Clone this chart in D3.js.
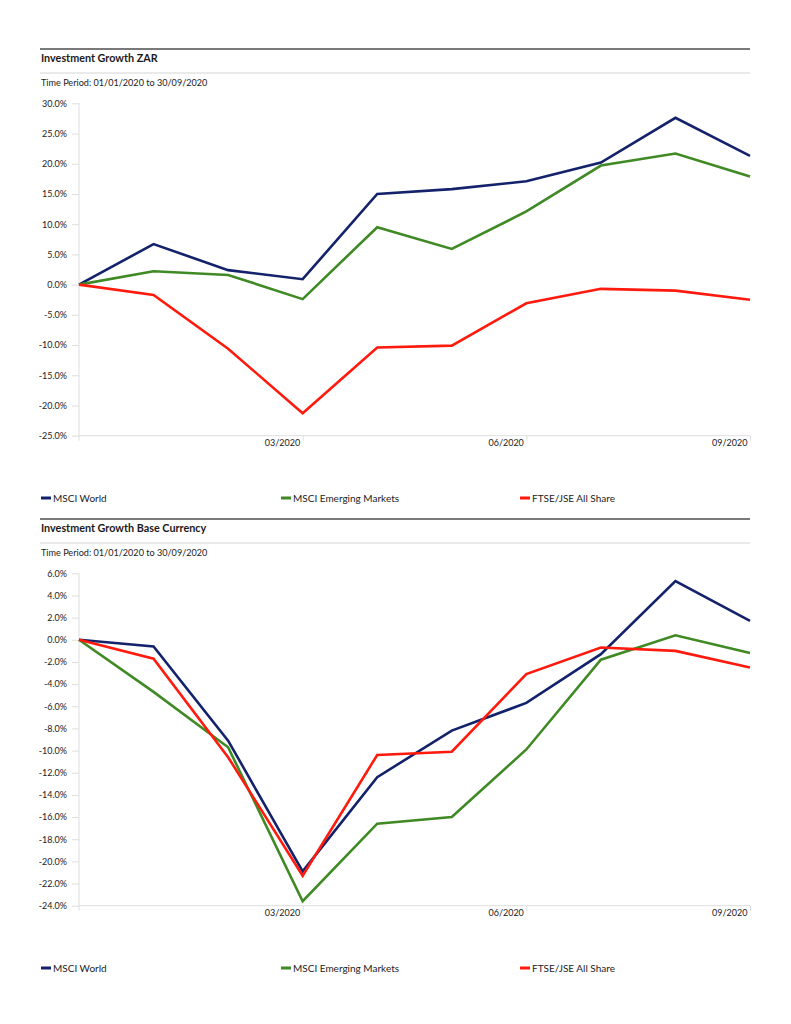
<!DOCTYPE html>
<html>
<head>
<meta charset="utf-8">
<script src="https://cdn.jsdelivr.net/npm/d3@7"></script>
<style>
  body { margin: 0; background: #fff; }
  svg { display: block; font-family: Lato, "Open Sans", sans-serif; }
</style>
</head>
<body>
<div id="chart"></div>
<script>
// month-end dates of the series
var dates = ["01/01/2020", "31/01/2020", "29/02/2020", "31/03/2020", "30/04/2020",
             "31/05/2020", "30/06/2020", "31/07/2020", "31/08/2020", "30/09/2020"];
var xTickIndex = [3, 6, 9];
var xTickLabels = ["03/2020", "06/2020", "09/2020"];

var seriesNames = ["MSCI World", "MSCI Emerging Markets", "FTSE/JSE All Share"];
var seriesColors = ["#13226b", "#3f8a24", "#ff1a0d"];

// Investment Growth ZAR (%)
var zarWorld = [0, 6.7, 2.4, 0.9, 15.0, 15.8, 17.1, 20.2, 27.6, 21.3];
var zarEM    = [0, 2.2, 1.6, -2.4, 9.5, 5.9, 12.1, 19.7, 21.7, 17.9];
var zarFtse  = [0, -1.7, -10.6, -21.3, -10.4, -10.1, -3.1, -0.7, -1.0, -2.5];

// Investment Growth Base Currency (%)
var baseWorld = [0, -0.6, -9.1, -20.9, -12.4, -8.2, -5.7, -1.3, 5.3, 1.7];
var baseEM    = [0, -4.7, -9.7, -23.6, -16.6, -16.0, -9.9, -1.8, 0.4, -1.2];
var baseFtse  = [0, -1.7, -10.6, -21.3, -10.4, -10.1, -3.1, -0.7, -1.0, -2.5];

var zarTicks = [-25, -20, -15, -10, -5, 0, 5, 10, 15, 20, 25, 30];
var baseTicks = [-24, -22, -20, -18, -16, -14, -12, -10, -8, -6, -4, -2, 0, 2, 4, 6];

var svg = d3.select("#chart").append("svg")
    .attr("width", 791)
    .attr("height", 1024);

function drawPanel(top, title, series, yTicks) {
    var g = svg.append("g").attr("transform", `translate(0, ${top})`);

    // header rules and titles
    g.append("line").attr("x1", 40).attr("x2", 750).attr("y1", 0).attr("y2", 0)
        .attr("stroke", "#4d4d4d").attr("stroke-width", 1.5);
    g.append("text").attr("x", 41).attr("y", 13)
        .attr("font-size", "10.8px").attr("font-weight", "bold").attr("fill", "#1a1a1a")
        .text(title);
    g.append("line").attr("x1", 40).attr("x2", 750).attr("y1", 24).attr("y2", 24)
        .attr("stroke", "#e3e3e3").attr("stroke-width", 1.5);
    g.append("text").attr("x", 41).attr("y", 37)
        .attr("font-size", "9.1px").attr("fill", "#222")
        .text("Time Period: " + dates[0] + " to " + dates[dates.length - 1]);

    var x = d3.scaleLinear().domain([0, dates.length - 1]).range([79, 750]);
    var y = d3.scaleLinear().domain([d3.min(yTicks), d3.max(yTicks)]).range([386.7, 54.3]);

    var yAxis = d3.axisLeft(y).tickValues(yTicks).tickSize(7).tickPadding(5)
        .tickFormat(d => d.toFixed(1) + "%");
    var yg = g.append("g").attr("transform", "translate(79, 0)").call(yAxis);
    yg.select(".domain").remove();
    yg.append("line").attr("x1", 0).attr("x2", 0).attr("y1", y.range()[1]).attr("y2", y.range()[0] + 5)
        .attr("stroke", "#dedede").attr("stroke-width", 1);
    yg.selectAll(".tick line").attr("stroke", "#dedede");
    yg.selectAll(".tick text").attr("font-size", "9px").attr("fill", "#222")
        .attr("font-family", "Lato, 'Open Sans', sans-serif");

    var xAxis = d3.axisBottom(x).tickValues(xTickIndex).tickSize(5).tickPadding(4)
        .tickFormat((d, i) => xTickLabels[i]);
    var xg = g.append("g").attr("transform", `translate(0, ${y.range()[0]})`).call(xAxis);
    xg.select(".domain").attr("stroke", "#dedede").attr("d", "M79,0H750");
    xg.selectAll(".tick line").attr("stroke", "#dedede");
    xg.selectAll(".tick text").attr("font-size", "9px").attr("fill", "#222")
        .attr("text-anchor", "end").attr("dx", "-3").attr("dy", "0.2em")
        .attr("font-family", "Lato, 'Open Sans', sans-serif");

    var line = d3.line().x((d, i) => x(i)).y(d => y(d));
    series.forEach(function (s, k) {
        g.append("path").datum(s)
            .attr("fill", "none")
            .attr("stroke", seriesColors[k])
            .attr("stroke-width", 2.6)
            .attr("stroke-linejoin", "miter")
            .attr("d", line);
    });

    // legend
    var legendX = [41, 281, 520];
    var lg = g.append("g").attr("transform", `translate(0, ${449})`);
    seriesNames.forEach(function (name, k) {
        lg.append("rect").attr("x", legendX[k]).attr("y", -1.5).attr("width", 10).attr("height", 3)
            .attr("fill", seriesColors[k]);
        lg.append("text").attr("x", legendX[k] + 12).attr("y", 3.7)
            .attr("font-size", "10px").attr("fill", "#222").text(name);
    });
}

drawPanel(49, "Investment Growth ZAR", [zarWorld, zarEM, zarFtse], zarTicks);
drawPanel(519, "Investment Growth Base Currency", [baseWorld, baseEM, baseFtse], baseTicks);
</script>
</body>
</html>
